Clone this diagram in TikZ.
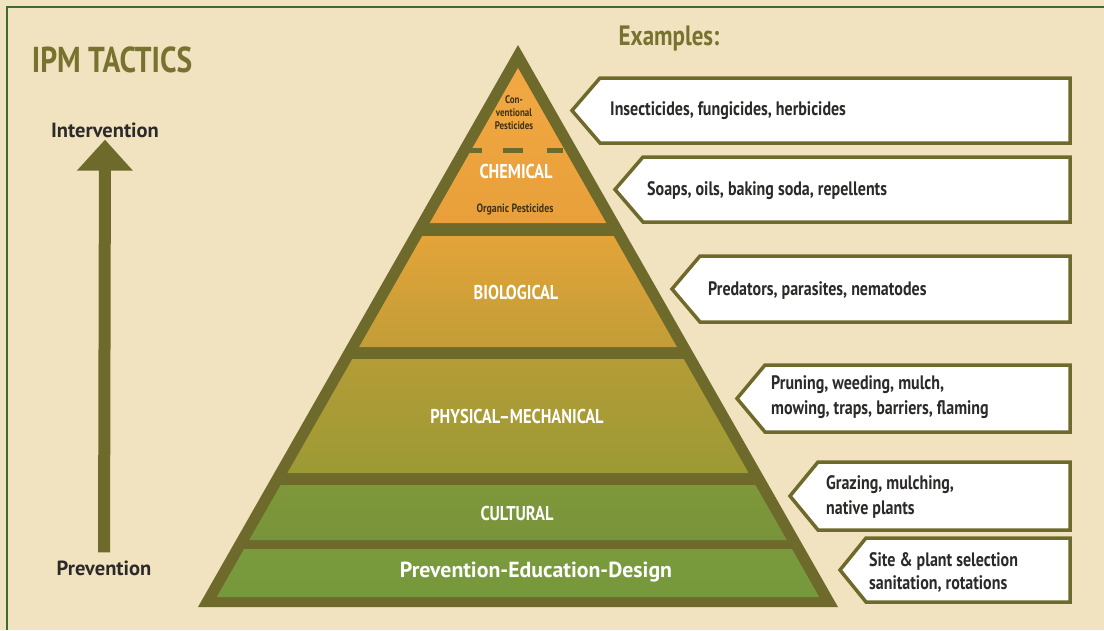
\documentclass[tikz,border=0pt]{standalone}
\usepackage{fontspec}
\setmainfont{PT Sans}
\newfontfamily\cond{PT Sans}[FakeStretch=0.82]
\usetikzlibrary{arrows.meta}

\definecolor{paper}{HTML}{F1E3BF}
\definecolor{frame}{HTML}{3E6B2A}
\definecolor{olive}{HTML}{6D6A2B}
\definecolor{titleol}{HTML}{77722F}
\definecolor{inkdark}{HTML}{2B2A28}
\definecolor{inkbrown}{HTML}{3F3217}
\definecolor{chemtop}{HTML}{F2A843}
\definecolor{chembot}{HTML}{E8A03A}
\definecolor{biotop}{HTML}{E3A439}
\definecolor{biobot}{HTML}{C29D37}
\definecolor{phystop}{HTML}{B49C36}
\definecolor{physbot}{HTML}{9C9A35}
\definecolor{culttop}{HTML}{7E973A}
\definecolor{cultbot}{HTML}{78943A}
\definecolor{prevtop}{HTML}{7A9B3D}
\definecolor{prevbot}{HTML}{76973B}

\tikzset{
  calloutbox/.style={fill=white, draw=olive, line width=3.5pt, line join=miter},
  calltext/.style={font=\cond\bfseries\fontsize{19.5}{25}\selectfont, text=inkdark,
                   anchor=west, align=left, inner sep=0pt},
  layertext/.style={font=\cond\bfseries\fontsize{20}{22}\selectfont, text=white, inner sep=0pt},
  smalltext/.style={font=\cond\bfseries\fontsize{11}{13}\selectfont, text=inkbrown,
                    align=center, inner sep=0pt},
  sidetext/.style={font=\bfseries\fontsize{20.5}{24}\selectfont, text=inkdark, inner sep=0pt},
}

\begin{document}
\begin{tikzpicture}[x=1pt,y=-1pt]
  % background and frame
  \fill[paper] (0,0) rectangle (1104,630);
  \useasboundingbox (0,0) rectangle (1104,630);
  \draw[frame, line width=2.5pt] (7,630) -- (7,7) -- (1104,7);

  % headings
  \node[font=\cond\bfseries\fontsize{36}{40}\selectfont, text=titleol, inner sep=0pt]
    (title) at (112,60) {IPM TACTICS};
  \node[font=\cond\bfseries\fontsize{28}{32}\selectfont, text=titleol, inner sep=0pt]
    (examples) at (669,38) {Examples:};

  % scale from prevention to intervention
  \node[sidetext] (interv) at (105,130) {Intervention};
  \node[sidetext] (prev) at (104,568) {Prevention};
  \draw[olive, line width=12pt, -{Triangle[width=54pt,length=31pt]},
        shorten <=8pt, shorten >=2pt] (prev.north) -- (interv.south);

  % pyramid body
  \fill[olive] (518,45) -- (838,607) -- (198,607) -- cycle;
  \shade[top color=chemtop, bottom color=chembot]
    (518,68) -- (606.3,223) -- (429.7,223) -- cycle;
  \draw[olive, line width=5pt, dash pattern=on 12pt off 21pt on 20pt off 24pt on 20pt]
    (470,150) -- (563,150);
  \shade[top color=biotop, bottom color=biobot]
    (422.3,236) -- (613.7,236) -- (676.9,347) -- (359.1,347) -- cycle;
  \shade[top color=phystop, bottom color=physbot]
    (352.3,359) -- (683.7,359) -- (748.6,473) -- (287.4,473) -- cycle;
  \shade[top color=culttop, bottom color=cultbot]
    (280.6,485) -- (755.4,485) -- (786.8,540) -- (249.2,540) -- cycle;
  \shade[top color=prevtop, bottom color=prevbot]
    (244.1,549) -- (791.9,549) -- (819.2,597) -- (216.8,597) -- cycle;

  % layer labels
  \node[smalltext] (conv) at (514,113) {Con-\\ventional\\Pesticides};
  \node[layertext] (chem) at (516,171) {CHEMICAL};
  \node[smalltext, font=\cond\bfseries\fontsize{12}{14}\selectfont] (organic) at (515,209) {Organic Pesticides};
  \node[layertext] (bio) at (516,292) {BIOLOGICAL};
  \node[layertext] (phys) at (517,416) {PHYSICAL\textendash MECHANICAL};
  \node[layertext] (cult) at (517,513) {CULTURAL};
  \node[font=\bfseries\fontsize{21.8}{24}\selectfont, text=white, inner sep=0pt]
    (ped) at (536,572) {Prevention-Education-Design};

  % example callouts
  \path[calloutbox] (600,78) -- (1070,78) -- (1070,143) -- (600,143) -- (572,110.5) -- cycle;
  \node[calltext] (ex1) at (610,111) {Insecticides, fungicides, herbicides};

  \path[calloutbox] (643,157) -- (1070,157) -- (1070,222) -- (643,222) -- (615,189.5) -- cycle;
  \node[calltext] (ex2) at (647,191) {Soaps, oils, baking soda, repellents};

  \path[calloutbox] (700,256) -- (1070,256) -- (1070,322) -- (700,322) -- (672,289) -- cycle;
  \node[calltext] (ex3) at (708,291) {Predators, parasites, nematodes};

  \path[calloutbox] (765,365) -- (1070,365) -- (1070,432) -- (765,432) -- (737,398.5) -- cycle;
  \node[calltext] (ex4) at (771,397) {Pruning, weeding, mulch,\\mowing, traps, barriers, flaming};

  \path[calloutbox] (818,462) -- (1070,462) -- (1070,530) -- (818,530) -- (790,496) -- cycle;
  \node[calltext] (ex5) at (826,497) {Grazing, mulching,\\native plants};

  \path[calloutbox] (866,538) -- (1070,538) -- (1070,602) -- (866,602) -- (840,570) -- cycle;
  \node[calltext, font=\cond\bfseries\fontsize{19.5}{23}\selectfont] (ex6) at (869,572) {Site \& plant selection\\sanitation, rotations};
\end{tikzpicture}
\end{document}
